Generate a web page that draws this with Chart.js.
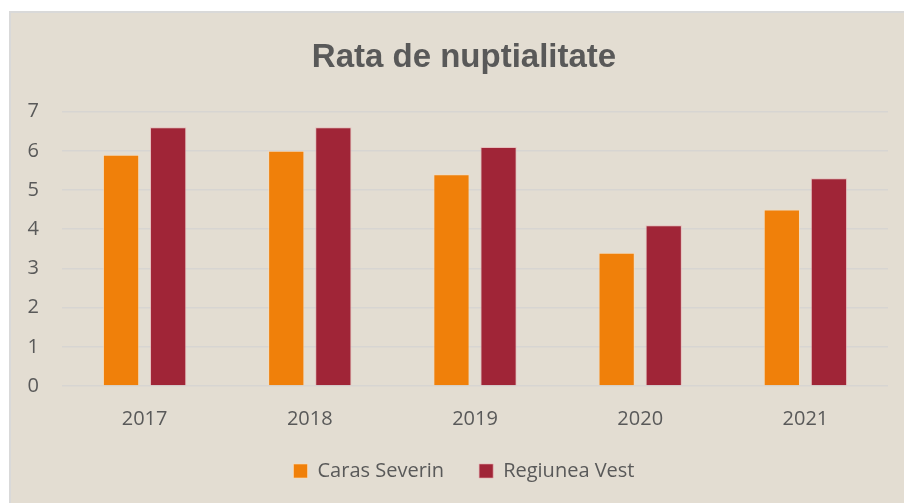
<!DOCTYPE html>
<html>
<head>
<meta charset="utf-8">
<script src="https://cdn.jsdelivr.net/npm/chart.js@4"></script>
<style>
  html, body { margin: 0; padding: 0; background: #ffffff; overflow: hidden; }
  #box {
    position: absolute; left: 9px; top: 11px;
    width: 914px; height: 492px; box-sizing: border-box;
    border-left: 2px solid #d9d9d9; border-top: 2px solid #d9d9d9;
    background: #e3ddd2;
  }
  #wrap { width: 912px; height: 490px; }
</style>
</head>
<body>
<div id="box"><div id="wrap"><canvas id="nupChart"></canvas></div></div>
<script>
// ani si valori (rata de nuptialitate)
const years = ['2017', '2018', '2019', '2020', '2021'];
const carasSeverin = [5.9, 6.0, 5.4, 3.4, 4.5];
const regiuneaVest = [6.6, 6.6, 6.1, 4.1, 5.3];

const textColor = '#595959';

const ctx = document.getElementById('nupChart').getContext('2d');
new Chart(ctx, {
    type: 'bar',
    data: {
        labels: years,
        datasets: [
            {
                label: 'Caras Severin',
                data: carasSeverin,
                backgroundColor: '#f0800a',
                borderColor: 'rgba(255, 220, 180, 0.6)',
                borderWidth: 1,
                categoryPercentage: 0.57,
                barPercentage: 0.77
            },
            {
                label: 'Regiunea Vest',
                data: regiuneaVest,
                backgroundColor: '#a02537',
                borderColor: 'rgba(230, 170, 175, 0.6)',
                borderWidth: 1,
                categoryPercentage: 0.57,
                barPercentage: 0.77
            }
        ]
    },
    options: {
        responsive: true,
        maintainAspectRatio: false,
        animation: false,
        layout: { padding: { left: 16, right: 22, bottom: 12 } },
        scales: {
            x: {
                grid: { display: false, drawTicks: false },
                border: { display: false },
                ticks: { color: textColor, font: { family: 'Open Sans', size: 20 }, padding: 21 },
                afterFit: (scale) => { scale.height = 40; }
            },
            y: {
                min: 0,
                max: 7,
                grid: { color: '#d7d5d2', lineWidth: 1.5, drawTicks: false },
                border: { display: false },
                ticks: { stepSize: 1, color: textColor, font: { family: 'Open Sans', size: 20 }, padding: 23 },
                afterFit: (scale) => { scale.width = 35; }
            },
            // axa goala in dreapta, doar pentru spatiu
            y2: {
                position: 'right',
                grid: { display: false, drawTicks: false },
                border: { display: false },
                ticks: { display: false },
                afterFit: (scale) => { scale.width = 13; }
            }
        },
        plugins: {
            title: {
                display: true,
                text: 'Rata de nuptialitate',
                color: textColor,
                font: { family: 'Liberation Sans', size: 33, weight: 'bold' },
                padding: { top: 25, bottom: 34 }
            },
            legend: {
                position: 'bottom',
                labels: {
                    color: textColor,
                    font: { family: 'Open Sans', size: 20 },
                    boxWidth: 14,
                    boxHeight: 14,
                    padding: 35
                }
            },
            tooltip: { enabled: false }
        }
    }
});
</script>
</body>
</html>
